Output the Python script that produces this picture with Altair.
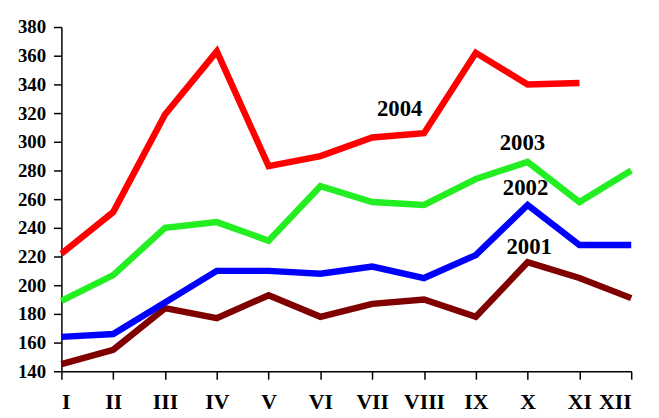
import altair as alt
import pandas as pd

months = ["I", "II", "III", "IV", "V", "VI", "VII", "VIII", "IX", "X", "XI", "XII"]
years = ["2001", "2002", "2003", "2004"]
colors = ["#800000", "#0000FF", "#22EE22", "#FF0000"]

v2001 = [145, 155, 184, 177, 193, 178, 187, 190, 178, 216, 205, 191]
v2002 = [164, 166, 188, 210, 210, 208, 213, 205, 221, 256, 228, 228]
v2003 = [189, 207, 240, 244, 231, 269, 258, 256, 274, 286, 258, 280]
v2004 = [222, 251, 319, 363, 283, 290, 303, 306, 362, 340, 341]

y_ticks = [140, 160, 180, 200, 220, 240, 260, 280, 300, 320, 340, 360, 380]

label_text = ["2004", "2003", "2002", "2001"]
label_x = [7.53, 9.9, 9.96, 10.03]
label_y = [323, 299, 268, 226.5]

rows = []
for yr, vals in zip(years, [v2001, v2002, v2003, v2004]):
    for i, v in enumerate(vals):
        rows.append({"year": yr, "m": i + 1, "value": v})
df = pd.DataFrame(rows)
labels = pd.DataFrame({"t": label_text, "x": label_x, "y": label_y})

roman = "[" + ",".join("'%s'" % m for m in months) + "]"

xscale = alt.Scale(domain=[1, 12], nice=False, zero=False)
yscale = alt.Scale(domain=[140, 380], nice=False, zero=False)

xaxis = alt.Axis(values=list(range(1, 13)), labelExpr=roman + "[datum.value-1]",
                 title=None, grid=False, labelFontSize=22, labelPadding=13,
                 ticks=True, tickSize=8, labelOverlap=False, labelBound=False)
yaxis = alt.Axis(values=y_ticks, title=None, grid=False,
                 labelFontSize=19, labelPadding=8, ticks=True, tickSize=8,
                 labelOverlap=False, labelBound=False)

lines = alt.Chart(df).mark_line(strokeWidth=6.5, strokeJoin="miter").encode(
    x=alt.X("m:Q", scale=xscale, axis=xaxis),
    y=alt.Y("value:Q", scale=yscale, axis=yaxis),
    color=alt.Color("year:N", scale=alt.Scale(domain=years, range=colors), legend=None),
    detail="year:N",
)

text = alt.Chart(labels).mark_text(font="Liberation Serif", fontWeight="bold",
                                   fontSize=23, color="black").encode(
    x=alt.X("x:Q", scale=xscale, axis=xaxis),
    y=alt.Y("y:Q", scale=yscale, axis=yaxis),
    text="t:N",
)

chart = alt.layer(lines, text).properties(
    width=576, height=348,
    autosize=alt.AutoSizeParams(type="none"),
    padding={"left": 54, "top": 17, "right": 20, "bottom": 45},
    background="white",
).configure_view(stroke=None).configure_axis(
    labelFont="Liberation Serif", labelFontWeight="bold", labelColor="black",
    domainColor="black", tickColor="black", domainWidth=1.5, tickWidth=1.5,
)

chart.save("out.html", embed_options={"renderer": "svg", "actions": False})
